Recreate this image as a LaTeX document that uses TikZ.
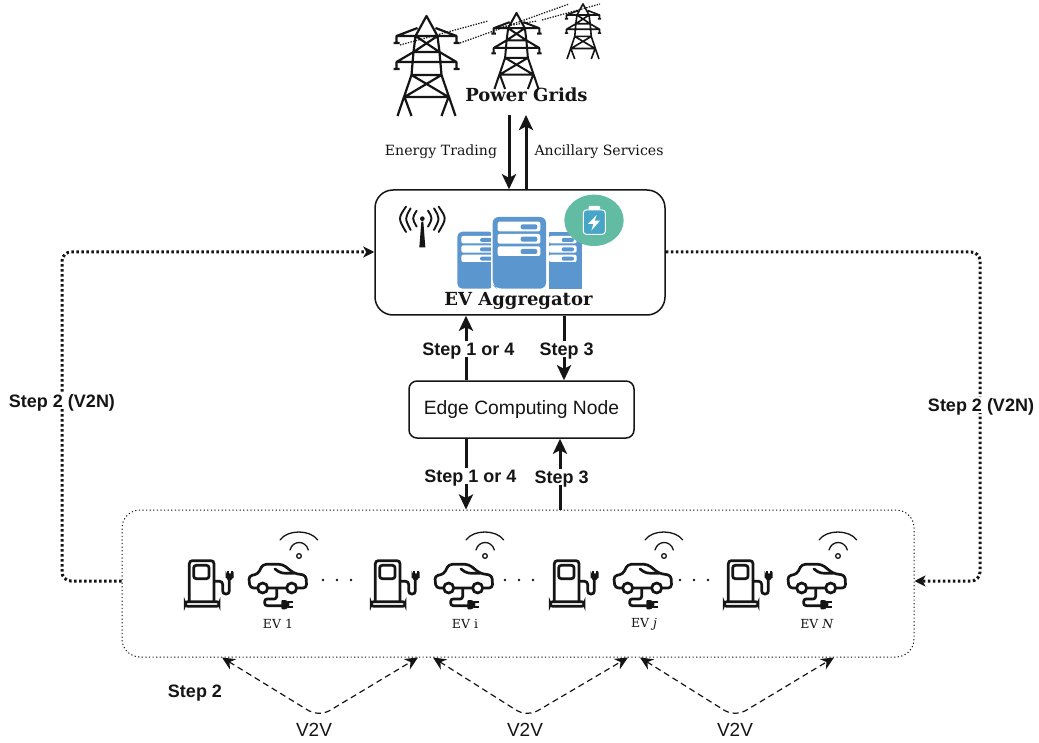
\documentclass[tikz,border=0pt]{standalone}
\usepackage{fontspec}
\setsansfont{Liberation Sans}
\newfontfamily\cent{DejaVu Serif}
\usetikzlibrary{arrows.meta,shapes.geometric}
\definecolor{srv}{HTML}{5B97CE}
\definecolor{teal}{HTML}{62BCA3}
\definecolor{batt}{HTML}{47A5C6}
\definecolor{ink}{HTML}{151515}
\newcommand{\fs}[1]{\fontsize{#1}{#1}\selectfont}
\newcommand{\towericon}[1]{%
  \draw[ink,line width=#1,line join=round]
    (-29,100) -- (-15,59) -- (-13,36) -- (-11,20) -- (0,0) -- (11,20) -- (13,36) -- (15,59) -- (29,100)
    (-30,27) -- (-30,20) -- (30,20) -- (30,27) (-33,27) -- (-27,27) (27,27) -- (33,27)
    (-30,20) -- (-9,12) (30,20) -- (9,12)
    (-30,53) -- (-30,46) -- (30,46) -- (30,53) (-33,53) -- (-27,53) (27,53) -- (33,53)
    (-30,46) -- (-13,36) (30,46) -- (13,36)
    (-11,20) -- (13,36) (11,20) -- (-13,36) (-13,36) -- (13,36)
    (-15,59) -- (15,59) (-15,59) -- (22,81) (15,59) -- (-22,81) (-22,81) -- (22,81)
    (-22,81) -- (-15,100) (22,81) -- (15,100);
}
\newcommand{\evgroup}{%
  % pump
  \draw[ink,line width=2.7pt,rounded corners=3pt]
    (58,246) -- (58,122) -- (132,122) -- (132,246);
  \draw[ink,line width=2.7pt,rounded corners=2.5pt] (71,136) rectangle (117,176);
  \draw[ink,line width=2.7pt,rounded corners=2.4pt,fill=white] (46,245) rectangle (147,259);
  \draw[ink,line width=2.7pt,rounded corners=3pt]
    (132,184) -- (158,184) -- (158,222) -- (178,222) -- (178,178);
  \draw[ink,line width=2pt,fill=ink,rounded corners=1.5pt] (170,163) -- (188,163) -- (188,172) -- (178,180) -- (170,172) -- cycle;
  \draw[ink,line width=2pt] (173,162) -- (173,152) (185,162) -- (185,152);
  % car
  \draw[ink,line width=2.7pt,line join=round,rounded corners=3.5pt]
    (262,204) -- (240,204) -- (236,168) -- (264,162) -- (278,133) -- (338,133) -- (372,160) -- (408,166) -- (410,204) -- (382,204);
  \draw[ink,line width=2.7pt,line cap=round] (293,204) -- (350,204) (315,147) .. controls (332,160) .. (372,160);
  \draw[ink,line width=2.7pt] (278,204) circle[radius=15] (365,204) circle[radius=15];
  \draw[ink,line width=2.7pt,rounded corners=2.5pt]
    (320,204) -- (320,237) -- (284,237) -- (284,257) -- (338,257);
  \fill[ink,rounded corners=1pt] (334,240) -- (348,240) -- (358,248) -- (358,258) -- (348,268) -- (334,268) -- cycle;
  \draw[ink,line width=2pt] (354,247) -- (369,247) (354,261) -- (369,261);
  % wifi
  \draw[ink,line width=1.3pt,line cap=round]
    (330,60) .. controls (352,28) and (421,28) .. (443,60)
    (360,90) .. controls (368,60) and (407,60) .. (415,90);
  \draw[ink,line width=1.3pt] (387,108) circle[radius=7];
}
\tikzset{
  x=1pt,y=-1pt,
  solidarrow/.style={ink,line width=3pt,-{Stealth[length=15pt,width=14pt,inset=3.5pt]}},
  dotarrow/.style={ink,line width=3pt,line cap=butt,dash pattern=on 2.5pt off 2.5pt,rounded corners=9pt,-{Stealth[length=11pt,width=11pt,inset=3pt]}},
  dasharrow/.style={ink,line width=1.2pt,dash pattern=on 6pt off 4pt,rounded corners=12pt,{Stealth[length=13pt,width=12pt]}-{Stealth[length=13pt,width=12pt]}},
  boxround/.style={draw=ink,line width=1.5pt,fill=white,rounded corners=#1,inner sep=0pt},
  seriflabel/.style={font=\cent\fs{14.1},text=ink,inner sep=0pt},
  evlabel/.style={font=\cent\fs{12.5},text=ink,inner sep=0pt},
  steplabel/.style={font=\sffamily\bfseries\fs{18},text=ink,inner sep=2pt,fill=white,text height=12.5pt,text depth=0pt},
  v2vlabel/.style={font=\sffamily\fs{19},text=ink,inner sep=0pt},
  wire/.style={ink,line width=1.2pt,dash pattern=on 1.4pt off 1.3pt},
  titlelabel/.style={font=\cent\bfseries\fs{18},text=ink,inner sep=0pt},
}
\begin{document}
\begin{tikzpicture}
\useasboundingbox (0,0) rectangle (1039,743);
\fill[white] (0,0) rectangle (1039,743);

% pylons
\begin{scope}[shift={(426.5,16)}]\towericon{2.2pt}\end{scope}
\begin{scope}[shift={(516.5,13)},scale=.76]\towericon{2pt}\end{scope}
\begin{scope}[shift={(583,4)},scale=.55]\towericon{1.6pt}\end{scope}
\draw[wire] (400,45) -- (488,21);
\draw[wire] (460,43) -- (569,4);
\draw[wire] (542,20) -- (600,4);
\draw[wire] (500,27) -- (537,21);

% boxes
\node[boxround=18pt,minimum width=290pt,minimum height=125pt] (agg) at (520,252.5) {};
\node[boxround=8pt,minimum width=225pt,minimum height=57pt,font=\sffamily\fs{19.3},text=ink] (edge) at (521.5,409.5) {Edge Computing Node};
\node[draw=ink,line width=1pt,dash pattern=on 1.2pt off 2.4pt,rounded corners=18pt,minimum width=792pt,minimum height=147pt,inner sep=0pt] (fleet) at (518,583.5) {};

% servers, antenna, battery inside the aggregator
\begin{scope}[shift={(370,0)},scale=1/3]
  \fill[srv,rounded corners=5pt] (262,695) rectangle (372,866);
  \fill[srv] (537,695) rectangle (635,866);
  \foreach \yy in {708,736,764}{
    \fill[white,rounded corners=2pt] (274,\yy) rectangle (372,\yy+22);
    \fill[srv,rounded corners=2pt] (330,\yy+6) rectangle (372,\yy+18);
    \fill[white,rounded corners=2pt] (537,\yy) rectangle (620,\yy+22);
    \fill[srv,rounded corners=2pt] (575,\yy+6) rectangle (612,\yy+18);
  }
  \fill[white] (362,645) rectangle (537,870);
  \fill[srv,rounded corners=6pt] (368,651) -- (528,651) -- (528,866) -- (380,866) -- (368,855) -- cycle;
  \foreach \yy in {665,702,739}{
    \fill[white,rounded corners=2pt] (383,\yy) rectangle (511,\yy+29);
    \fill[srv,rounded corners=2pt] (452,\yy+8) rectangle (502,\yy+23);
  }
  % antenna
  \fill[ink] (154,665) -- (160,665) -- (166,742) -- (148,742) -- cycle;
  \fill[ink] (157,656) circle[radius=7];
  \draw[ink,line width=1.9pt,line cap=round]
    (140,632) .. controls (126,655) .. (140,680)
    (174,632) .. controls (188,655) .. (174,680)
    (122,625) .. controls (104,655) .. (122,690)
    (192,625) .. controls (210,655) .. (192,690)
    (108,620) .. controls (84,655) .. (108,696)
    (206,620) .. controls (230,655) .. (206,696);
  % battery
  \fill[teal] (672,661) ellipse[x radius=89,y radius=77];
  \draw[white,line width=1pt,fill=batt,rounded corners=3pt] (640,630) rectangle (706,703);
  \fill[white,rounded corners=1pt] (656,618) rectangle (690,630);
  \fill[white] (680,645) -- (654,672) -- (670,672) -- (664,692) -- (690,662) -- (674,662) -- cycle;
\end{scope}

% titles
\node[titlelabel] (gridtitle) at (526.5,95) {Power Grids};
\node[titlelabel] (aggtitle) at (518.5,301) {EV Aggregator};
\node[seriflabel] (trade) at (441,152) {Energy Trading};
\node[seriflabel] (anc) at (599,152) {Ancillary Services};

% grid and aggregator
\coordinate (gd) at (509,115);
\coordinate (gu) at (526,115);
\coordinate (xa) at (466,0);
\coordinate (xb) at (564,0);
\coordinate (xc) at (560,0);
\draw[solidarrow] (gd) -- (agg.north -| gd);
\draw[solidarrow] (agg.north -| gu) -- (gu);
\draw[solidarrow] (edge.north -| xa) -- (agg.south -| xa);
\draw[solidarrow] (agg.south -| xb) -- (edge.north -| xb);
\draw[solidarrow] (edge.south -| xa) -- (fleet.north -| xa);
\draw[solidarrow] (fleet.north -| xc) -- (edge.south -| xc);

\node[steplabel] (s14a) at (468.5,349) {Step 1 or 4};
\node[steplabel] (s3a) at (566.7,349) {Step 3};
\node[steplabel] (s14b) at (470.5,476) {Step 1 or 4};
\node[steplabel] (s3b) at (561.7,477) {Step 3};

% V2N loops
\coordinate (lc) at (62,581);
\coordinate (ly) at (0,252);
\coordinate (rc) at (980,581);
\draw[dotarrow] (fleet.west |- lc) -- (lc) -- (lc |- ly) -- (agg.west |- ly);
\draw[dotarrow] (agg.east |- ly) -- (rc |- ly) -- (rc) -- (fleet.east |- rc);
\node[steplabel] (n2l) at (62,401) {Step 2 (V2N)};
\node[steplabel] (n2r) at (981,405) {Step 2 (V2N)};
\node[steplabel,fill=none] (s2) at (195,691) {Step 2};

% fleet icons
\begin{scope}[shift={(170,520)},scale=1/3]\evgroup\end{scope}
\begin{scope}[shift={(356,520)},scale=1/3]\evgroup\end{scope}
\begin{scope}[shift={(535,520)},scale=1/3]\evgroup\end{scope}
\begin{scope}[shift={(709,520)},scale=1/3]\evgroup\end{scope}
\node[evlabel] (ev1) at (278,624) {EV 1};
\node[evlabel] (evi) at (465,624) {EV i};
\node[evlabel] (evj) at (644,624) {EV \textit{j}};
\node[evlabel] (evn) at (817,624) {EV \textit{N}};
\foreach \xx in {323,337,351,505,519,533,680,694,708}{
  \fill[ink] (\xx,580) circle[radius=1.3];
}

% V2V
\coordinate (t1a) at (222,0); \coordinate (t1b) at (418,0);
\coordinate (t2a) at (433,0); \coordinate (t2b) at (628,0);
\coordinate (t3a) at (640,0); \coordinate (t3b) at (834,0);
\coordinate (m1) at (319,717); \coordinate (m2) at (527,717); \coordinate (m3) at (735,717);
\draw[dasharrow] (fleet.south -| t1a) -- (m1) -- (fleet.south -| t1b);
\draw[dasharrow] (fleet.south -| t2a) -- (m2) -- (fleet.south -| t2b);
\draw[dasharrow] (fleet.south -| t3a) -- (m3) -- (fleet.south -| t3b);
\node[v2vlabel] (v1) at (314,729.5) {V2V};
\node[v2vlabel] (v2) at (525,729.5) {V2V};
\node[v2vlabel] (v3) at (735,729.5) {V2V};
\end{tikzpicture}
\end{document}
